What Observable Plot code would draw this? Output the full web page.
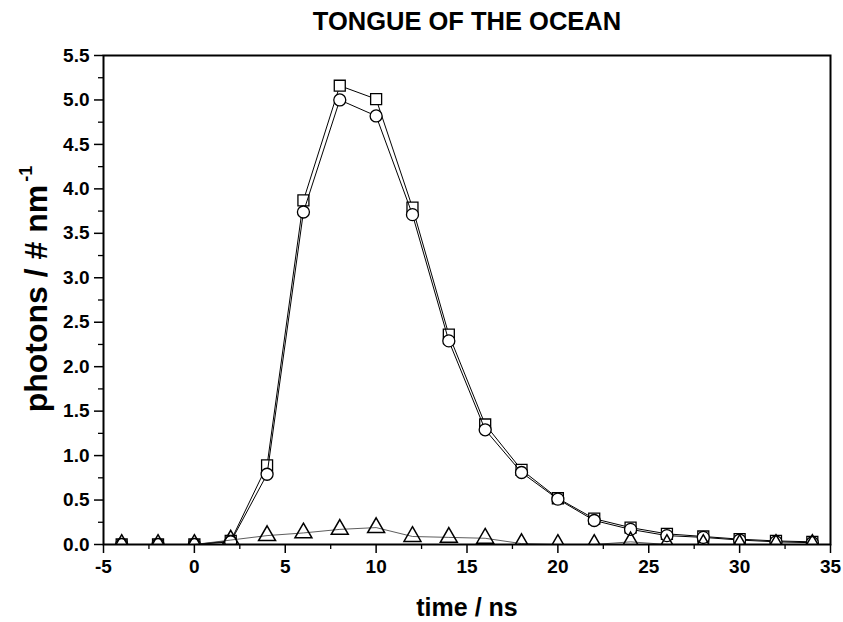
<!DOCTYPE html>
<html><head><meta charset="utf-8">
<script src="https://cdn.jsdelivr.net/npm/d3@7"></script>
<script src="https://cdn.jsdelivr.net/npm/@observablehq/plot@0.6"></script>
<style>
html,body{margin:0;padding:0;background:#fff;}
svg{font-family:"Liberation Sans",Arial,sans-serif;}
</style>
</head><body>
<div id="chart"></div>
<script>
const title = "TONGUE OF THE OCEAN";
const xLabel = "time / ns";
const yLabelMain = "photons / # nm";
const yLabelSup = "-1";
const time = [-4,-2,0,2,4,6,8,10,12,14,16,18,20,22,24,26,28,30,32,34];
const squares = [0,0,0,0.04,0.89,3.87,5.16,5.01,3.79,2.36,1.35,0.84,0.52,0.29,0.19,0.12,0.09,0.06,0.04,0.03];
const circles = [0,0,0,0.03,0.79,3.74,5.00,4.82,3.71,2.29,1.29,0.81,0.51,0.27,0.17,0.10,0.08,0.05,0.03,0.02];
const triangles = [0,0,0,0.05,0.10,0.13,0.17,0.19,0.09,0.08,0.07,0.01,0.0,0.0,0.03,0.0,0.0,0.0,0.0,0.0];
const xMajor = [-5,0,5,10,15,20,25,30,35];
const xMinor = [-2.5,2.5,7.5,12.5,17.5,22.5,27.5,32.5];
const yMajor = [0,0.5,1,1.5,2,2.5,3,3.5,4,4.5,5,5.5];
const yMinor = [0.25,0.75,1.25,1.75,2.25,2.75,3.25,3.75,4.25,4.75,5.25];

const sq = time.map((t,i)=>({t, v: squares[i]}));
const ci = time.map((t,i)=>({t, v: circles[i]}));
const tr = time.map((t,i)=>({t, v: triangles[i]}));

const fontTick = {fontSize: 19, fontWeight: "bold"};
const chart = Plot.plot({
  width: 843, height: 622,
  marginLeft: 103, marginRight: 13, marginTop: 55, marginBottom: 78,
  style: {fontFamily: '"Liberation Sans",Arial,sans-serif', color: "#000", background: "#fff"},
  x: {domain: [-5,35]},
  y: {domain: [0,5.5]},
  marks: [
    Plot.line(sq, {x:"t", y:"v", stroke:"#000", strokeWidth:1, clip:true}),
    Plot.dot(sq, {x:"t", y:"v", symbol:"square", r:6.2, stroke:"#000", strokeWidth:1.3, fill:"#fff", clip:true}),
    Plot.line(ci, {x:"t", y:"v", stroke:"#000", strokeWidth:1, clip:true}),
    Plot.dot(ci, {x:"t", y:"v", symbol:"circle", r:6, stroke:"#000", strokeWidth:1.3, fill:"#fff", clip:true}),
    Plot.line(tr, {x:"t", y:"v", stroke:"#333", strokeWidth:0.8, clip:true}),
    Plot.dot(tr, {x:"t", y:"v", symbol:"triangle", r:6.3, stroke:"#000", strokeWidth:1.5, fill:"none", clip:true}),
    Plot.axisX(xMajor, {tickSize: 9, tickPadding: 6, tickFormat: d=>String(d), ...fontTick, label: null, strokeWidth: 1.5}),
    Plot.axisX(xMinor, {tickSize: 5, tickFormat: null, text: null, label: null, strokeWidth: 1.3}),
    Plot.axisY(yMajor, {tickSize: 9, tickPadding: 5, tickFormat: d3.format(".1f"), ...fontTick, label: null, strokeWidth: 1.5}),
    Plot.axisY(yMinor, {tickSize: 5, tickFormat: null, text: null, label: null, strokeWidth: 1.3}),
    Plot.frame({stroke: "#000", strokeWidth: 2}),
    Plot.text([title], {frameAnchor: "top", dy: -44, fontSize: 25.5, fontWeight: "bold", text: d=>d}),
    Plot.text([xLabel], {frameAnchor: "bottom", dy: 71, fontSize: 25, fontWeight: "bold", text: d=>d})
  ]
});
document.getElementById("chart").appendChild(chart);

// y label with superscript
const svg = d3.select(chart);
const yl = svg.append("text")
  .attr("transform", "translate(47,289) rotate(-90)")
  .attr("text-anchor", "middle")
  .attr("font-size", 32).attr("font-weight", "bold")
  .attr("fill", "#000");
yl.append("tspan").text(yLabelMain);
yl.append("tspan").attr("font-size", 18).attr("dy", -15).attr("dx", 3).text(yLabelSup);
</script>
</body></html>
